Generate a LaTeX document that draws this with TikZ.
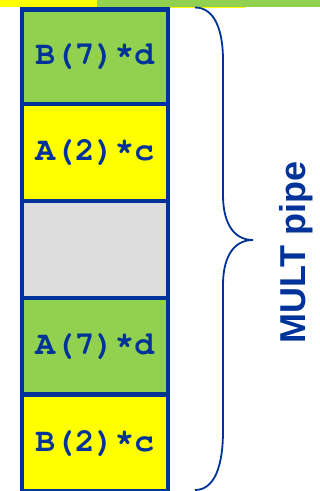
\documentclass[tikz,border=0pt]{standalone}
\usepackage{fontspec}
\setmonofont{TeX Gyre Cursor}
\setsansfont{Liberation Sans}
\definecolor{cnavy}{HTML}{003399}
\definecolor{cgreen}{HTML}{92D050}
\definecolor{cyellow}{HTML}{FFFF00}
\definecolor{cgray}{HTML}{DDDDDD}

\begin{document}
\begin{tikzpicture}[x=1pt, y=1pt,
  slot/.style={draw=cnavy, line width=4.5pt, minimum width=146pt, inner sep=0pt,
    text=cnavy, font=\ttfamily\bfseries\fontsize{33}{33}\selectfont},
  grn/.style={slot, fill=cgreen},
  ylw/.style={slot, fill=cyellow},
  emp/.style={slot, fill=cgray},
  brc/.style={draw=cnavy, line width=1.8pt},
  lbl/.style={text=cnavy, font=\sffamily\bfseries\fontsize{36}{36}\selectfont}]
\useasboundingbox (0,0) rectangle (320,491);

% ---- top strip
\fill[cyellow] (0,491) rectangle (97,484.3);
\fill[cgreen] (97,491) rectangle (320,484.3);
\fill[cyellow] (97,484.3) rectangle (245,483.3);

% ---- pipeline stages (top to bottom)
\node[grn, minimum height=94.5pt] (s1) at (94.75,434.25) {B(7)*d};
\node[ylw, minimum height=97pt]   (s2) at (94.75,338.5)  {A(2)*c};
\node[emp, minimum height=97pt]   (s3) at (94.75,241.5)  {};
\node[grn, minimum height=96.7pt] (s4) at (94.75,144.65) {A(7)*d};
\node[ylw, minimum height=97pt]   (s5) at (94.75,47.8)   {B(2)*c};

% ---- brace and label
\coordinate (btop) at (195,483.5);
\coordinate (btip) at (253,251);
\coordinate (bbot) at (195,1);
\draw[brc] (btop) .. controls (215,483.5) and (223,460) .. (223,431)
  -- (223,296) .. controls (223,266) and (235,251) .. (btip)
  .. controls (235,251) and (223,236) .. (223,206)
  -- (223,60) .. controls (223,26) and (215,1) .. (bbot);
\node[lbl, rotate=90, anchor=base] (pipe) at (305,238.5) {MULT pipe};
\end{tikzpicture}
\end{document}
